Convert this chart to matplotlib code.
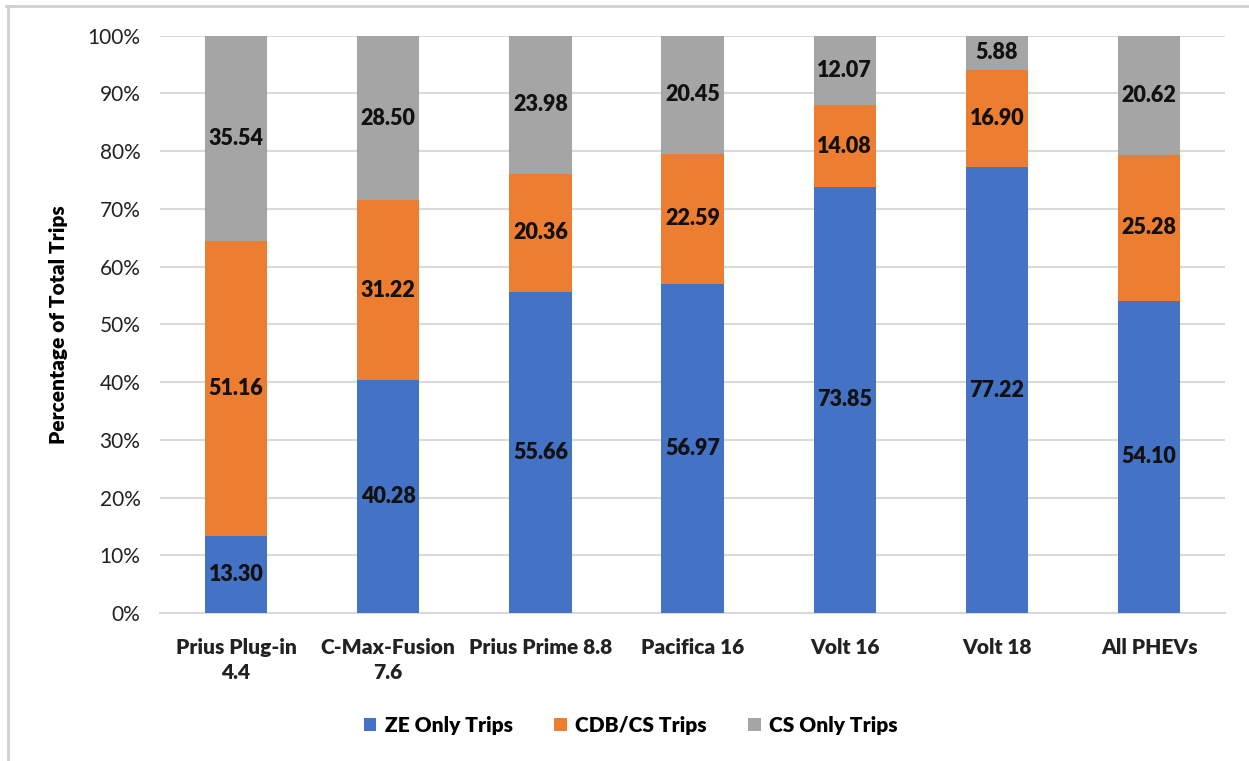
import numpy as np
import matplotlib.pyplot as plt
from matplotlib.lines import Line2D
from matplotlib.ticker import FuncFormatter

plt.rcParams['font.family'] = ['Lato', 'DejaVu Sans']

categories = ['Prius Plug-in\n4.4', 'C-Max-Fusion\n7.6', 'Prius Prime 8.8',
              'Pacifica 16', 'Volt 16', 'Volt 18', 'All PHEVs']
ze_only = [13.30, 40.28, 55.66, 56.97, 73.85, 77.22, 54.10]
cdb_cs = [51.16, 31.22, 20.36, 22.59, 14.08, 16.90, 25.28]
cs_only = [35.54, 28.50, 23.98, 20.45, 12.07, 5.88, 20.62]

series = [('ZE Only Trips', ze_only, '#4472C4'),
          ('CDB/CS Trips', cdb_cs, '#ED7D31'),
          ('CS Only Trips', cs_only, '#A5A5A5')]

fig = plt.figure(figsize=(12.49, 7.61), dpi=100)
ax = fig.add_axes([0.128, 0.1945, 0.853, 0.7585])

x = np.arange(len(categories))
bottom = np.zeros(len(categories))
for name, vals, color in series:
    vals = np.array(vals)
    bars = ax.bar(x, vals, 0.41, bottom=bottom, color=color, label=name, zorder=3)
    for xi, b, v in zip(x, bottom, vals):
        ax.text(xi, b + v / 2, f'{v:.2f}', ha='center', va='center',
                fontsize=15.5, fontweight='heavy', color='#111111', zorder=4)
    bottom += vals

ax.set_ylim(0, 100)
ax.set_xlim(-0.5, len(categories) - 0.5)
ax.set_yticks(np.arange(0, 101, 10))
ax.yaxis.set_major_formatter(FuncFormatter(lambda v, p: f'{v:.0f}%'))
ax.grid(axis='y', color='#D9D9D9', linewidth=1.5, zorder=0)
for s in ['top', 'right', 'left']:
    ax.spines[s].set_visible(False)
ax.spines['bottom'].set_color('#D9D9D9')
ax.spines['bottom'].set_linewidth(1.5)
ax.tick_params(axis='both', length=0, labelsize=15, colors='#222222')
ax.tick_params(axis='y', pad=14)
ax.tick_params(axis='x', pad=18)
ax.set_xticks(x)
ax.set_xticklabels(categories, fontweight='heavy', linespacing=1.35)
ax.set_ylabel('Percentage of Total Trips', fontsize=15, fontweight='heavy', labelpad=14)

fig.legend(loc='center', bbox_to_anchor=(0.505, 0.047), ncol=3, frameon=False,
           prop={'size': 15, 'weight': 'heavy'}, handlelength=0.6, handleheight=0.6,
           columnspacing=2.0, handletextpad=0.4)

# thin frame lines at top and left like the source image
fig.add_artist(Line2D([0.005, 1.0], [0.992, 0.992], color='#D0D0D0', lw=2, transform=fig.transFigure))
fig.add_artist(Line2D([0.0065, 0.0065], [0.0, 0.992], color='#D0D0D0', lw=2, transform=fig.transFigure))

fig.savefig('out.png', dpi=100)
